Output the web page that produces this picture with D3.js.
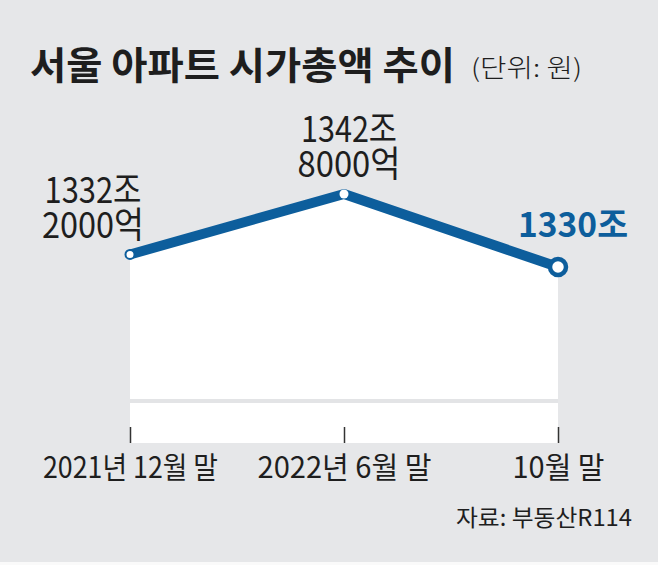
<!DOCTYPE html>
<html>
<head>
<meta charset="utf-8">
<script src="https://d3js.org/d3.v7.min.js"></script>
<style>
    html, body { margin: 0; padding: 0; background: #e6e7e9; }
    svg { display: block; }
    text { font-family: "Noto Sans CJK KR", "Noto Sans", sans-serif; }
</style>
</head>
<body>
<div id="chart"></div>
<script>
// Data
const periods = ['2021년 12월 말', '2022년 6월 말', '10월 말'];
const values = [1332.2, 1342.8, 1330];          // 조 원
const valueLines = [['1332조', '2000억'], ['1342조', '8000억'], ['1330조']];
const titleText = '서울 아파트 시가총액 추이';
const unitText = '(단위: 원)';
const sourceText = '자료: 부동산R114';

const W = 658, H = 565;
const blue = '#0d5e9c';
const ink = '#1e1e1e';

const svg = d3.select('#chart').append('svg')
    .attr('width', W)
    .attr('height', H);

svg.append('rect').attr('width', W).attr('height', H).attr('fill', '#e6e7e9');
// thin white strip at the very bottom
svg.append('rect').attr('x', 0).attr('y', 562).attr('width', W).attr('height', 3).attr('fill', '#fafafa');

// Title
svg.append('text')
    .attr('x', 30).attr('y', 79)
    .attr('font-size', 38).attr('font-weight', 700)
    .attr('fill', ink)
    .attr('textLength', 425).attr('lengthAdjust', 'spacingAndGlyphs')
    .text(titleText);

svg.append('text')
    .attr('x', 471).attr('y', 77)
    .attr('font-size', 25).attr('font-weight', 300)
    .attr('fill', ink)
    .attr('textLength', 111).attr('lengthAdjust', 'spacingAndGlyphs')
    .text(unitText);

// Scales
const x = d3.scalePoint().domain(periods).range([130, 558]);
const y = d3.scaleLinear().domain([1330, 1342.8]).range([267, 194]);
const baseY = 443;

const data = periods.map((p, i) => ({ period: p, value: values[i], lines: valueLines[i] }));

// White area under the line
svg.append('path')
    .datum(data)
    .attr('fill', '#ffffff')
    .attr('d', d3.area()
        .x(d => x(d.period))
        .y0(baseY)
        .y1(d => y(d.value)));

// gray break line inside area
svg.append('line')
    .attr('x1', x.range()[0]).attr('x2', x.range()[1])
    .attr('y1', 401).attr('y2', 401)
    .attr('stroke', '#e3e4e6').attr('stroke-width', 4);

// Axis with upward ticks
const axis = svg.append('g')
    .attr('transform', `translate(0,${baseY})`)
    .call(d3.axisBottom(x).tickSize(-16));
axis.select('.domain').remove();
axis.selectAll('.tick line').attr('stroke', '#333').attr('stroke-width', 1.5);
axis.selectAll('.tick text')
    .attr('y', 35)
    .attr('dy', null)
    .attr('font-family', '"Noto Sans CJK KR", sans-serif')
    .attr('font-size', 30)
    .attr('font-weight', 400)
    .attr('fill', ink)
    .attr('textLength', (d, i) => [175, 174, 92][i])
    .attr('lengthAdjust', 'spacingAndGlyphs');

// Line
svg.append('path')
    .datum(data)
    .attr('fill', 'none')
    .attr('stroke', blue)
    .attr('stroke-width', 10)
    .attr('stroke-linejoin', 'round')
    .attr('d', d3.line()
        .x(d => x(d.period))
        .y(d => y(d.value)));

// Points
svg.selectAll('.pt')
    .data(data)
    .enter().append('circle')
    .attr('class', 'pt')
    .attr('cx', d => x(d.period))
    .attr('cy', d => y(d.value))
    .attr('r', (d, i) => i === 2 ? 8 : 4.5)
    .attr('fill', '#ffffff')
    .attr('stroke', blue)
    .attr('stroke-width', (d, i) => i === 2 ? 4.5 : 2)
    .attr('stroke-opacity', (d, i) => i === 1 ? 0 : 1);

// Value labels (one text per label, lines as tspans)
const labelPos = [
    { cx: 93, y0: 203, w: [97, 102], fs: 36 },
    { cx: 349, y0: 142, w: [96, 103], fs: 36 },
    { cx: 573, y0: 237, w: [110], fs: 34 }
];
data.forEach((d, i) => {
    const label = svg.append('text')
        .attr('y', labelPos[i].y0)
        .attr('text-anchor', 'middle')
        .attr('font-size', labelPos[i].fs)
        .attr('font-weight', i === 2 ? 700 : 400)
        .attr('fill', i === 2 ? blue : ink);
    d.lines.forEach((t, j) => {
        label.append('tspan')
            .attr('x', labelPos[i].cx)
            .attr('y', labelPos[i].y0 + j * 35)
            .attr('textLength', labelPos[i].w[j])
            .attr('lengthAdjust', 'spacingAndGlyphs')
            .text(t);
    });
});

// Source
svg.append('text')
    .attr('x', 632).attr('y', 526)
    .attr('text-anchor', 'end')
    .attr('font-size', 23)
    .attr('font-weight', 400)
    .attr('fill', ink)
    .attr('textLength', 176).attr('lengthAdjust', 'spacingAndGlyphs')
    .text(sourceText);
</script>
</body>
</html>
